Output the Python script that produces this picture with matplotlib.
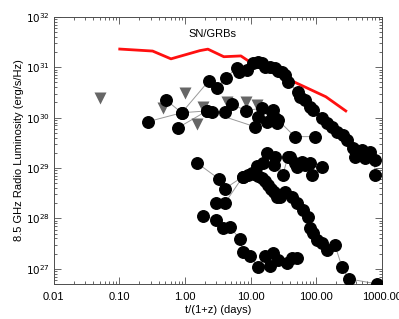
import numpy as np
import matplotlib
matplotlib.use("Agg")
import matplotlib.pyplot as plt
from matplotlib.ticker import LogLocator, FixedLocator, NullFormatter

plt.rcParams['font.family'] = ['Liberation Sans', 'DejaVu Sans']

# upper envelope (red)
red_t = [0.101, 0.32, 0.61, 1.68, 2.23, 3.9, 7.1, 9.7, 39.6, 140, 282]
red_L = [2.3e31, 2.1e31, 1.47e31, 2.14e31, 2.29e31, 1.62e31, 1.68e31, 1.28e31, 5.6e30, 2.6e30, 1.36e30]

# light curves (detections)
sA_t = [0.51, 0.89, 2.31, 3.05, 4.19, 6.16, 6.61, 8.75, 10.8, 12.9, 14.8, 16.4, 19.6, 23.4,
        26.0, 29.9, 33.2, 36.9, 52.5, 56.2, 67.0, 79.9, 88.7, 122, 145, 173, 206, 254, 293,
        362, 388, 496, 551, 656, 782, 782]
sA_L = [2.25e30, 1.25e30, 5.4e30, 3.9e30, 6.2e30, 9.7e30, 8.1e30, 8.9e30, 1.22e31, 1.28e31,
        1.22e31, 1.02e31, 1.02e31, 9.7e30, 8.5e30, 8.1e30, 7.1e30, 5.1e30, 3.25e30, 2.6e30,
        2.25e30, 1.64e30, 1.43e30, 9.9e29, 7.9e29, 6.6e29, 5.2e29, 4.6e29, 3.6e29, 2.5e29,
        1.67e29, 2.3e29, 1.59e29, 2.1e29, 1.46e29, 7.3e28]

sB_t = [0.27, 0.89, 2.15, 2.56, 4.04, 5.17, 8.45, 14.8, 21.0, 26.0, 47.2, 95.2]
sB_L = [8.3e29, 1.25e30, 1.36e30, 1.30e30, 1.30e30, 1.88e30, 1.36e30, 1.56e30, 1.30e30,
        9.0e29, 4.2e29, 4.2e29]

sC_t = [0.78, 2.15, 11.6, 12.9, 17.7, 21.8, 23.4, 25.1]
sC_L = [6.3e29, 1.36e30, 6.6e29, 1.04e30, 8.3e29, 1.43e30, 1.0e30, 7.9e29]

sD_t = [1.51, 3.27, 4.04, 7.60, 10.4, 12.4, 15.5, 17.7, 22.7, 23.4, 31.0, 36.9, 39.6, 47.2,
        50.6, 60.3, 67.0, 79.9, 85.7, 122]
sD_L = [1.27e29, 6.1e28, 3.9e28, 6.7e28, 8.0e28, 1.11e29, 1.27e29, 2.0e29, 1.16e29, 1.67e29,
        7.3e28, 1.67e29, 1.67e29, 1.27e29, 1.06e29, 1.3e29, 1.16e29, 1.27e29, 7.3e28, 1.06e29]

sE_t = [2.95, 4.04, 7.60, 9.0, 11.2, 12.9, 14.8, 16.4, 18.3, 20.3, 22.5, 25.1, 28.5, 33.2,
        42.5, 50.6, 62.5, 74.5, 79.9, 88.7, 102, 122, 145, 192, 246, 314, 839]
sE_L = [2.0e28, 2.0e28, 6.7e28, 7.3e28, 7.6e28, 6.8e28, 6.4e28, 5.5e28, 4.6e28, 3.9e28,
        3.3e28, 2.7e28, 2.7e28, 3.4e28, 2.7e28, 2.0e28, 1.48e28, 1.08e28, 6.5e27, 5.2e27,
        3.8e27, 3.3e27, 2.4e27, 3.0e27, 1.10e27, 6.3e26, 5.0e26]

sF_t = [1.87, 2.95, 3.77, 4.82, 6.84, 7.6, 9.72, 12.9, 16.4, 19.6, 21.8, 26.0, 35.6, 42.5, 50.6]
sF_L = [1.13e28, 9.4e27, 6.5e27, 6.8e27, 3.9e27, 2.2e27, 1.81e27, 1.10e27, 1.81e27, 1.15e27,
        2.1e27, 1.51e27, 1.31e27, 1.65e27, 1.65e27]

# upper limits (gray triangles)
lim_t = [0.050, 0.46, 1.0, 1.51, 1.9, 4.34, 8.45, 12.4]
lim_L = [2.5e30, 1.56e30, 3.1e30, 7.6e29, 1.64e30, 2.05e30, 2.05e30, 1.8e30]

fig = plt.figure(figsize=(3.99, 3.19), dpi=100)
ax = fig.add_axes([0.135, 0.110, 0.822, 0.837])

ax.plot(red_t, red_L, color='#ff1010', lw=2.0, zorder=2)

for t, L in [(sA_t, sA_L), (sB_t, sB_L), (sC_t, sC_L), (sD_t, sD_L), (sE_t, sE_L), (sF_t, sF_L)]:
    ax.plot(t, L, color='0.6', lw=0.7, zorder=1)
    ax.plot(t, L, 'o', color='black', ms=8.3, mec='black', zorder=3)

ax.plot(lim_t, lim_L, 'v', color='#666666', ms=9, mec='none', zorder=2)

ax.set_xscale('log')
ax.set_yscale('log')
ax.set_xlim(0.01, 1000)
ax.set_ylim(5e26, 1e32)

ax.xaxis.set_major_locator(FixedLocator([0.01, 0.1, 1, 10, 100, 1000]))
ax.set_xticklabels(['0.01', '0.10', '1.00', '10.00', '100.00', '1000.00'])
ax.xaxis.set_minor_locator(LogLocator(base=10, subs=np.arange(2, 10)))
ax.xaxis.set_minor_formatter(NullFormatter())
ax.yaxis.set_major_locator(FixedLocator([1e27, 1e28, 1e29, 1e30, 1e31, 1e32]))
ax.set_yticklabels([r'$10^{27}$', r'$10^{28}$', r'$10^{29}$', r'$10^{30}$', r'$10^{31}$', r'$10^{32}$'])
ax.yaxis.set_minor_locator(LogLocator(base=10, subs=np.arange(2, 10)))
ax.yaxis.set_minor_formatter(NullFormatter())

ax.tick_params(which='both', direction='in', top=True, right=True, labelsize=8, width=0.6,
               color='0.3')
ax.tick_params(which='major', length=5)
ax.tick_params(axis='x', which='major', pad=6)
ax.tick_params(axis='y', which='major', pad=3, labelsize=7.5)
ax.tick_params(which='minor', length=2.5)
for s in ax.spines.values():
    s.set_linewidth(0.7)
    s.set_color('0.3')

ax.set_xlabel('t/(1+z) (days)', fontsize=8, labelpad=2)
ax.set_ylabel('8.5 GHz Radio Luminosity (erg/s/Hz)', fontsize=8)
ax.yaxis.set_label_coords(-0.09, 0.5)
ax.text(2.6, 4.5e31, 'SN/GRBs', fontsize=8, ha='center', va='center')

fig.savefig('out.png', dpi=100)
